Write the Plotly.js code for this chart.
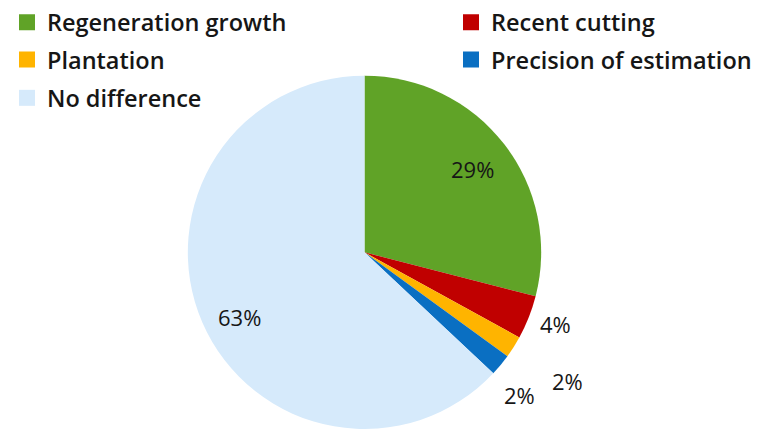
<!DOCTYPE html>
<html>
<head>
<meta charset="utf-8">
<script src="https://cdn.plot.ly/plotly-3.0.1.min.js"></script>
<style>html,body{margin:0;padding:0;background:#fff;}#chart{width:765px;height:429px;}</style>
</head>
<body>
<div id="chart"></div>
<script>
// Data
const categories = ["Regeneration growth", "Recent cutting", "Plantation", "Precision of estimation", "No difference"];
const shares = [29, 4, 2, 2, 63];
const sliceColors = ["#60a327", "#c00000", "#ffb400", "#0a6fc2", "#d6eafb"];

// Styling / layout constants (not data)
const W = 765, H = 429;
const CX = 364.5, CY = 251.5, R = 177.5;             // pie centre and radius in px
const labelRadius = [0.77, 1.15, 1.355, 1.19, 0.795]; // label distance as fraction of radius
const labelAngleShift = [0, -0.8, 0, 3.1, -4];        // degrees
const legendPos = [[7, 20.5], [451, 20.5], [7, 58], [451, 58], [7, 96.5]]; // px of each legend entry
const FONT = "'Open Sans', Lato, sans-serif";
const TXT = "#161616";

const pie = {
  type: "pie",
  labels: categories,
  values: shares,
  marker: { colors: sliceColors, line: { width: 0 } },
  sort: false,
  direction: "clockwise",
  rotation: 0,
  textinfo: "none",
  showlegend: false,
  hoverinfo: "label+percent",
  domain: { x: [(CX - R) / W, (CX + R) / W], y: [(H - CY - R) / H, (H - CY + R) / H] }
};

// One legend per entry so entries sit exactly in the two-column arrangement
const legendName = i => (i === 0 ? "legend" : "legend" + (i + 1));
const legendTraces = categories.map((c, i) => ({
  type: "scatter",
  mode: "markers",
  x: [null],
  y: [null],
  name: c,
  legend: legendName(i),
  marker: { symbol: "square", size: 16, color: sliceColors[i], line: { width: 0 } },
  hoverinfo: "skip"
}));

// Percent labels derived from the data (mid-angle of each slice)
const total = shares.reduce((a, b) => a + b, 0);
let cum = 0;
const annotations = shares.map((v, i) => {
  const mid = (cum + v / 2) / total * 2 * Math.PI + labelAngleShift[i] * Math.PI / 180;
  cum += v;
  const px = CX + R * labelRadius[i] * Math.sin(mid);
  const py = CY - R * labelRadius[i] * Math.cos(mid);
  return {
    xref: "paper", yref: "paper",
    x: px / W, y: 1 - py / H,
    xanchor: "center", yanchor: "middle",
    text: Math.round(v / total * 100) + "%",
    showarrow: false,
    font: { family: FONT, size: 22, color: TXT }
  };
});

const layout = {
  width: W,
  height: H,
  margin: { l: 0, r: 0, t: 0, b: 0 },
  paper_bgcolor: "#ffffff",
  plot_bgcolor: "#ffffff",
  xaxis: { visible: false, showgrid: false, zeroline: false },
  yaxis: { visible: false, showgrid: false, zeroline: false },
  showlegend: true,
  annotations: annotations
};
legendPos.forEach((p, i) => {
  layout[legendName(i)] = {
    orientation: "v",
    xanchor: "left",
    yanchor: "middle",
    x: p[0] / W,
    y: 1 - p[1] / H,
    bgcolor: "rgba(0,0,0,0)",
    font: { family: FONT, size: 23.5, color: TXT, weight: 600 }
  };
});

Plotly.newPlot("chart", [pie].concat(legendTraces), layout, { displayModeBar: false, staticPlot: true });
</script>
</body>
</html>
